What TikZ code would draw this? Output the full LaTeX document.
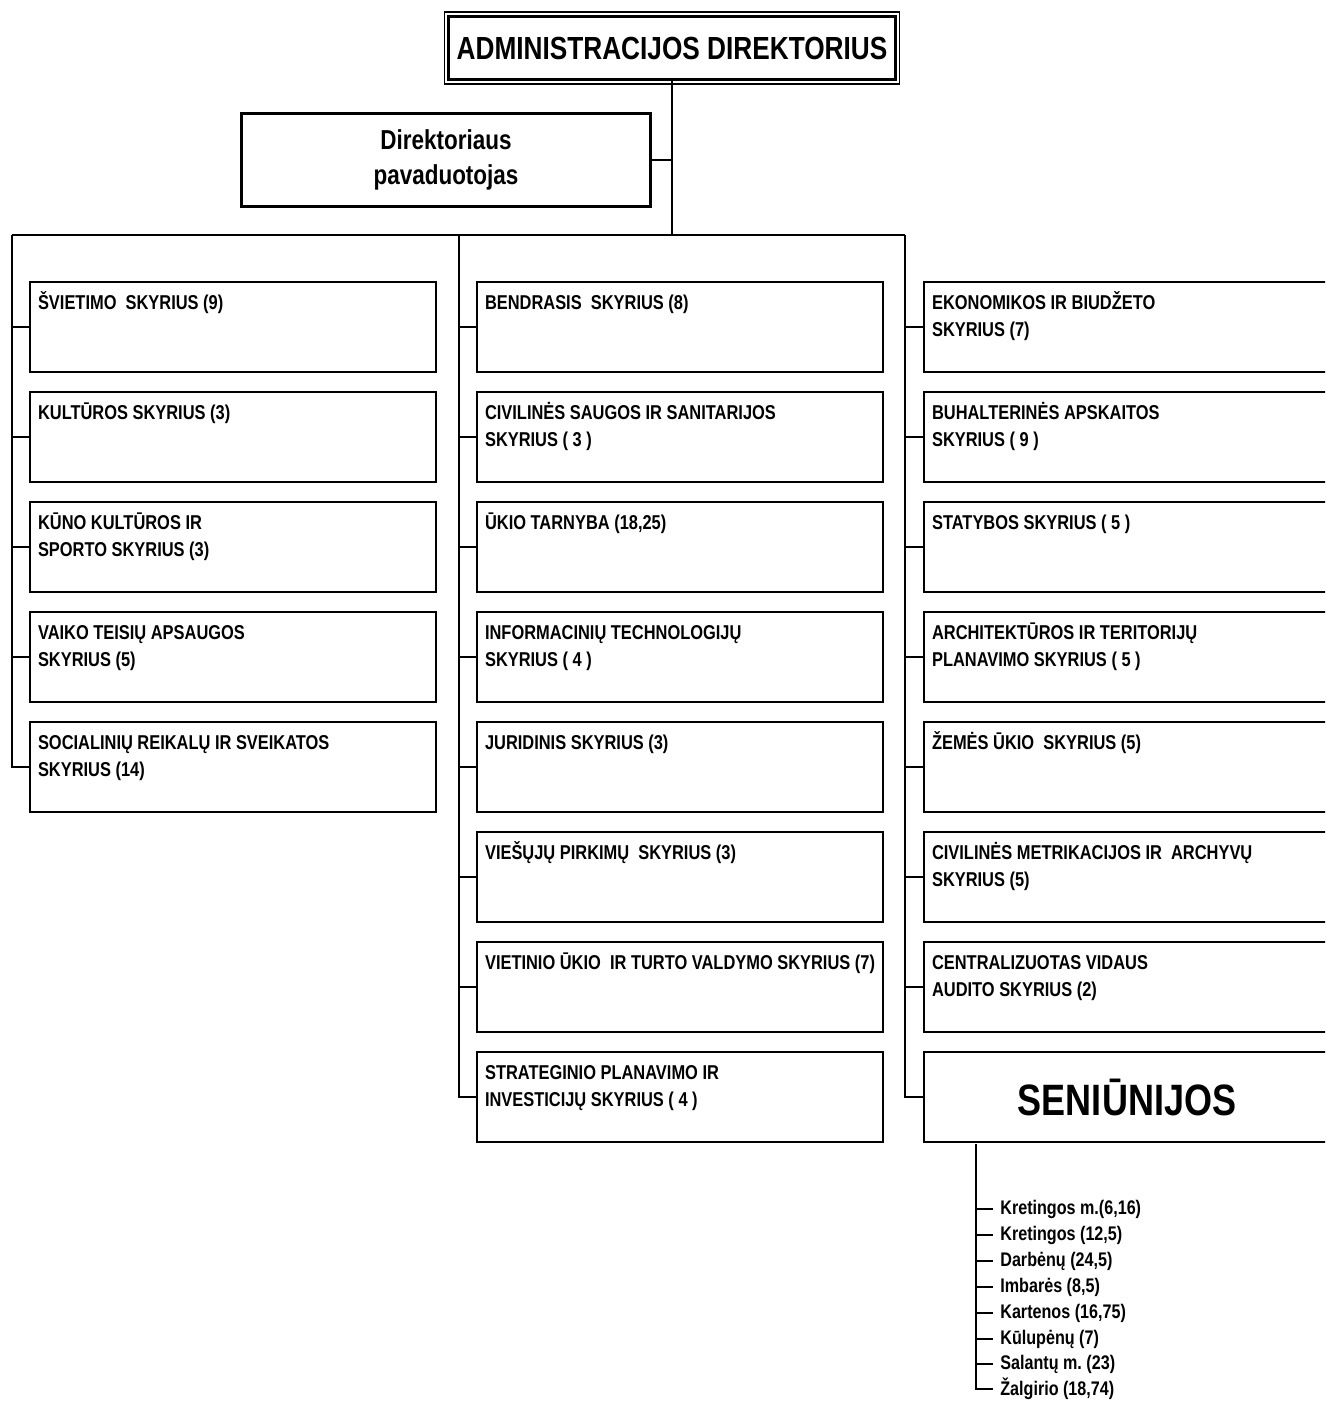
\documentclass[tikz,border=0pt]{standalone}
\usepackage{fontspec}
\setmainfont{Liberation Sans}[FakeStretch=0.82]
\usetikzlibrary{calc}

\newcommand{\skyrius}[1]{\parbox[c][1.44cm][t]{7.8cm}{\raggedright\strut #1}}

\tikzset{
	link/.style={line width=0.85pt},
	unit/.style={draw, rectangle, line width=0.85pt, minimum width=8.12cm, minimum height=1.8cm, inner xsep=0.16cm, inner ysep=0.18cm, font=\fontsize{11.4}{15.3}\selectfont\bfseries},
	village/.style={anchor=west, inner xsep=0.14cm, inner ysep=0.04cm, font=\fontsize{11.2}{12}\selectfont\bfseries},
}

\begin{document}
\begin{tikzpicture}[x=0.02cm, y=-0.02cm]
	\clip (0, 0) rectangle (1325, 1402);
	\node[draw, line width=1.7pt, minimum width=8.94cm, minimum height=1.26cm, inner sep=0pt, font=\fontsize{18.2}{20}\selectfont\bfseries] (dir)at(672, 48) {ADMINISTRACIJOS DIREKTORIUS};
	\draw[line width=0.6pt] ($(dir.north west)+(-3, -3)$) rectangle ($(dir.south east)+(3, 3)$);
	\node[draw, line width=1.7pt, minimum width=8.2cm, minimum height=1.88cm, align=center, font=\fontsize{15.6}{19.8}\selectfont\bfseries] (dep)at(446, 160) {Direktoriaus\\pavaduotojas};
	\coordinate (hub) at (672, 235);
	\coordinate (bl) at (12, 235);
	\coordinate (bm) at (459, 235);
	\coordinate (br) at (905, 235);
	\coordinate (stem) at (976, 1144);
	% left column
	\node[unit] (sv)at(233, 327) {\skyrius{ŠVIETIMO~ SKYRIUS (9)}};
	\node[unit] (kult)at(233, 437) {\skyrius{KULTŪROS SKYRIUS (3)}};
	\node[unit] (sport)at(233, 547) {\skyrius{KŪNO KULTŪROS IR\\SPORTO SKYRIUS (3)}};
	\node[unit] (vaik)at(233, 657) {\skyrius{VAIKO TEISIŲ APSAUGOS\\SKYRIUS (5)}};
	\node[unit] (soc)at(233, 767) {\skyrius{SOCIALINIŲ REIKALŲ IR SVEIKATOS\\SKYRIUS (14)}};
	% middle column
	\node[unit] (bend)at(680, 327) {\skyrius{BENDRASIS~ SKYRIUS (8)}};
	\node[unit] (civ)at(680, 437) {\skyrius{CIVILINĖS SAUGOS IR SANITARIJOS\\SKYRIUS ( 3 )}};
	\node[unit] (ukio)at(680, 547) {\skyrius{ŪKIO TARNYBA (18,25)}};
	\node[unit] (it)at(680, 657) {\skyrius{INFORMACINIŲ TECHNOLOGIJŲ\\SKYRIUS ( 4 )}};
	\node[unit] (jur)at(680, 767) {\skyrius{JURIDINIS SKYRIUS (3)}};
	\node[unit] (pirk)at(680, 877) {\skyrius{VIEŠŲJŲ PIRKIMŲ~ SKYRIUS (3)}};
	\node[unit] (turt)at(680, 987) {\skyrius{VIETINIO ŪKIO~ IR TURTO VALDYMO SKYRIUS (7)}};
	\node[unit] (strat)at(680, 1097) {\skyrius{STRATEGINIO PLANAVIMO IR\\INVESTICIJŲ SKYRIUS ( 4 )}};
	% right column
	\node[unit] (ekon)at(1127, 327) {\skyrius{EKONOMIKOS IR BIUDŽETO\\SKYRIUS (7)}};
	\node[unit] (buh)at(1127, 437) {\skyrius{BUHALTERINĖS APSKAITOS\\SKYRIUS ( 9 )}};
	\node[unit] (stat)at(1127, 547) {\skyrius{STATYBOS SKYRIUS ( 5 )}};
	\node[unit] (arch)at(1127, 657) {\skyrius{ARCHITEKTŪROS IR TERITORIJŲ\\PLANAVIMO SKYRIUS ( 5 )}};
	\node[unit] (zem)at(1127, 767) {\skyrius{ŽEMĖS ŪKIO~ SKYRIUS (5)}};
	\node[unit] (metr)at(1127, 877) {\skyrius{CIVILINĖS METRIKACIJOS IR~ ARCHYVŲ\\SKYRIUS (5)}};
	\node[unit] (audit)at(1127, 987) {\skyrius{CENTRALIZUOTAS VIDAUS\\AUDITO SKYRIUS (2)}};
	\node[unit, font=\fontsize{25}{30}\selectfont\bfseries] (sen)at(1127, 1097) {SENIŪNIJOS};
	% seniunijos
	\node[village] (kretm)at(993, 1209) {Kretingos m.(6,16)};
	\node[village] (kret)at(993, 1235) {Kretingos (12,5)};
	\node[village] (darb)at(993, 1261) {Darbėnų (24,5)};
	\node[village] (imb)at(993, 1287) {Imbarės (8,5)};
	\node[village] (kart)at(993, 1313) {Kartenos (16,75)};
	\node[village] (kul)at(993, 1339) {Kūlupėnų (7)};
	\node[village] (sal)at(993, 1364) {Salantų m.\ (23)};
	\node[village] (zalg)at(993, 1389) {Žalgirio (18,74)};
	\draw[link] (dir.south) -- (hub);
	\draw[link] (dep.east) -- (dep.east -| hub);
	\draw[link] (bl) -- (br);
	\draw[link] (bl) |- (soc.west);
	\draw[link] (sv.west) -- (sv.west -| bl);
	\draw[link] (kult.west) -- (kult.west -| bl);
	\draw[link] (sport.west) -- (sport.west -| bl);
	\draw[link] (vaik.west) -- (vaik.west -| bl);
	\draw[link] (bm) |- (strat.west);
	\draw[link] (bend.west) -- (bend.west -| bm);
	\draw[link] (civ.west) -- (civ.west -| bm);
	\draw[link] (ukio.west) -- (ukio.west -| bm);
	\draw[link] (it.west) -- (it.west -| bm);
	\draw[link] (jur.west) -- (jur.west -| bm);
	\draw[link] (pirk.west) -- (pirk.west -| bm);
	\draw[link] (turt.west) -- (turt.west -| bm);
	\draw[link] (br) |- (sen.west);
	\draw[link] (ekon.west) -- (ekon.west -| br);
	\draw[link] (buh.west) -- (buh.west -| br);
	\draw[link] (stat.west) -- (stat.west -| br);
	\draw[link] (arch.west) -- (arch.west -| br);
	\draw[link] (zem.west) -- (zem.west -| br);
	\draw[link] (metr.west) -- (metr.west -| br);
	\draw[link] (audit.west) -- (audit.west -| br);
	\draw[link] (stem) |- (zalg.west);
	\draw[link] (kretm.west) -- (kretm.west -| stem);
	\draw[link] (kret.west) -- (kret.west -| stem);
	\draw[link] (darb.west) -- (darb.west -| stem);
	\draw[link] (imb.west) -- (imb.west -| stem);
	\draw[link] (kart.west) -- (kart.west -| stem);
	\draw[link] (kul.west) -- (kul.west -| stem);
	\draw[link] (sal.west) -- (sal.west -| stem);
\end{tikzpicture}
\end{document}
